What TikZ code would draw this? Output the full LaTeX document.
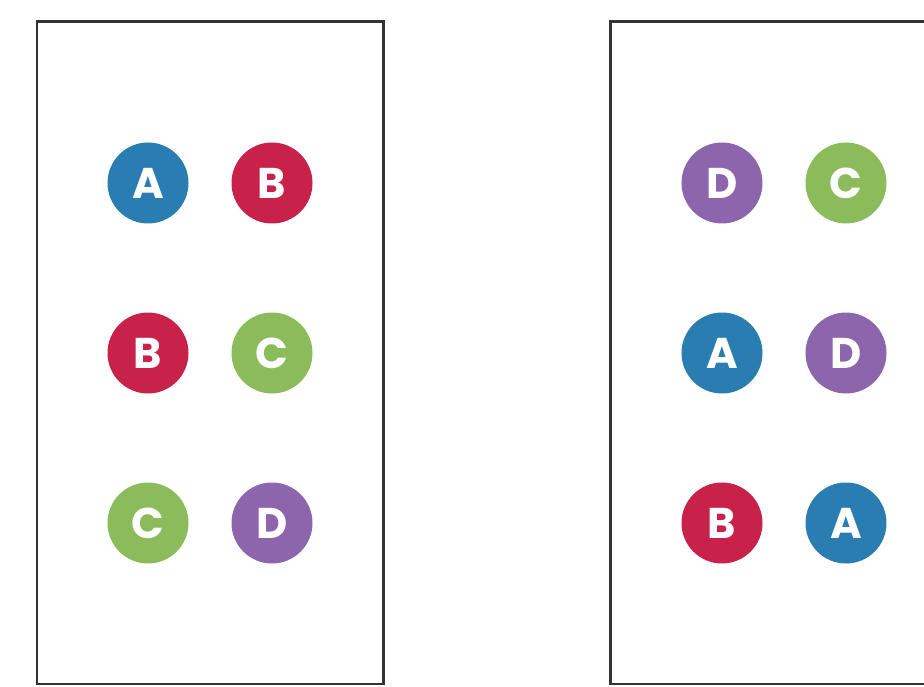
\documentclass[tikz,border=0pt]{standalone}
\usepackage{fontspec}
\setmainfont{Poppins}[UprightFont=* SemiBold, BoldFont=* Bold]
\definecolor{cblue}{HTML}{2A7DB0}
\definecolor{cred}{HTML}{C8214A}
\definecolor{cgreen}{HTML}{8BBB5B}
\definecolor{cpurple}{HTML}{8C65AD}
\definecolor{frame}{HTML}{333333}
\begin{document}
\begin{tikzpicture}[x=1pt,y=-1pt,
  dot/.style={circle,minimum size=81pt,inner sep=0pt,text=white,font=\fontsize{43}{43}\selectfont\bfseries},
  panel/.style={draw=frame,line width=2.2pt}]
\useasboundingbox (0,0) rectangle (924,687);
\begin{scope}
\clip (0,0) rectangle (924,687);
\draw[panel] (37,21.5) rectangle (383.5,684);
\draw[panel] (610.5,21.5) rectangle (940,684);
\end{scope}
% left panel
\node[dot,fill=cblue]   (l11) at (148,183) {A};
\node[dot,fill=cred]    (l12) at (272,183) {B};
\node[dot,fill=cred]    (l21) at (148,353) {B};
\node[dot,fill=cgreen]  (l22) at (272,353) {C};
\node[dot,fill=cgreen]  (l31) at (148,523) {C};
\node[dot,fill=cpurple] (l32) at (272,523) {D};
% right panel
\node[dot,fill=cpurple] (r11) at (722,183) {D};
\node[dot,fill=cgreen]  (r12) at (846,183) {C};
\node[dot,fill=cblue]   (r21) at (722,353) {A};
\node[dot,fill=cpurple] (r22) at (846,353) {D};
\node[dot,fill=cred]    (r31) at (722,523) {B};
\node[dot,fill=cblue]   (r32) at (846,523) {A};
\end{tikzpicture}
\end{document}
